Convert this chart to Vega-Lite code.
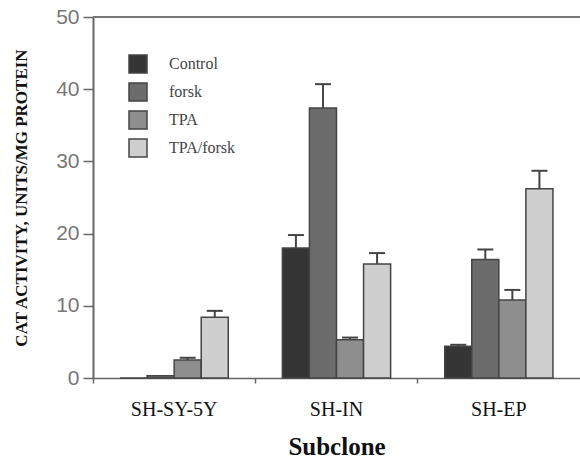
{
  "$schema": "https://vega.github.io/schema/vega-lite/v6.json",
  "width": 487,
  "height": 361,
  "autosize": "none",
  "padding": {"left": 93, "top": 17, "right": 0, "bottom": 82},
  "background": "white",
  "config": {
    "view": {"stroke": null},
    "axis": {"domainColor": "#666", "tickColor": "#666", "domainWidth": 1.5, "tickWidth": 1.5, "grid": false}
  },
  "data": {
    "values": [
      {"subclone": "SH-SY-5Y", "treatment": "Control", "value": 0, "err": null},
      {"subclone": "SH-SY-5Y", "treatment": "forsk", "value": 0.3, "err": null},
      {"subclone": "SH-SY-5Y", "treatment": "TPA", "value": 2.5, "err": 2.8},
      {"subclone": "SH-SY-5Y", "treatment": "TPA/forsk", "value": 8.4, "err": 9.3},
      {"subclone": "SH-IN", "treatment": "Control", "value": 18.0, "err": 19.8},
      {"subclone": "SH-IN", "treatment": "forsk", "value": 37.4, "err": 40.7},
      {"subclone": "SH-IN", "treatment": "TPA", "value": 5.3, "err": 5.6},
      {"subclone": "SH-IN", "treatment": "TPA/forsk", "value": 15.8, "err": 17.3},
      {"subclone": "SH-EP", "treatment": "Control", "value": 4.4, "err": 4.6},
      {"subclone": "SH-EP", "treatment": "forsk", "value": 16.4, "err": 17.8},
      {"subclone": "SH-EP", "treatment": "TPA", "value": 10.8, "err": 12.2},
      {"subclone": "SH-EP", "treatment": "TPA/forsk", "value": 26.2, "err": 28.7}
    ]
  },
  "layer": [
    {
      "mark": {"type": "bar", "stroke": "#444", "strokeWidth": 1.5},
      "encoding": {
        "x": {
          "field": "subclone", "type": "nominal", "sort": ["SH-SY-5Y", "SH-IN", "SH-EP"],
          "scale": {"paddingInner": 0, "paddingOuter": 0},
          "title": "Subclone",
          "axis": {
            "bandPosition": 0, "labelAngle": 0, "tickSize": 5,
            "labelFont": "Liberation Serif", "labelFontSize": 20, "labelColor": "#111", "labelPadding": 16,
            "titleFont": "Liberation Serif", "titleFontSize": 25, "titleFontWeight": "bold", "titleColor": "#111", "titlePadding": 15
          }
        },
        "xOffset": {"field": "treatment", "type": "nominal", "sort": ["Control", "forsk", "TPA", "TPA/forsk"], "scale": {"paddingInner": 0, "paddingOuter": 1}},
        "y": {
          "field": "value", "type": "quantitative", "scale": {"domain": [0, 50], "nice": false},
          "title": "CAT ACTIVITY, UNITS/MG PROTEIN",
          "axis": {
            "values": [0, 5, 10, 15, 20, 25, 30, 35, 40, 45, 50],
            "labelExpr": "datum.value % 10 === 0 ? datum.label : ''",
            "tickSize": {"condition": {"test": "datum.value % 10 === 0", "value": 10}, "value": 6},
            "domainWidth": 2,
            "labelFont": "Liberation Sans", "labelFontSize": 21, "labelColor": "#777", "labelPadding": 4,
            "titleFont": "Liberation Serif", "titleFontSize": 17, "titleFontWeight": "bold", "titleColor": "#111", "titlePadding": 25
          }
        },
        "color": {
          "field": "treatment", "type": "nominal",
          "scale": {"domain": ["Control", "forsk", "TPA", "TPA/forsk"], "range": ["#353535", "#6c6c6c", "#8e8e8e", "#cfcfcf"]},
          "legend": {
            "orient": "none", "legendX": 35, "legendY": 37, "title": null,
            "symbolType": "square", "symbolSize": 324, "symbolStrokeColor": "#444", "symbolStrokeWidth": 1.5, "symbolOpacity": 1,
            "labelFont": "Liberation Serif", "labelFontSize": 16, "labelColor": "#444", "labelOffset": 21, "rowPadding": 4
          }
        }
      }
    },
    {
      "transform": [{"filter": "datum.err != null"}],
      "mark": {"type": "rule", "color": "#444", "strokeWidth": 2},
      "encoding": {
        "x": {"field": "subclone", "type": "nominal", "sort": ["SH-SY-5Y", "SH-IN", "SH-EP"]},
        "xOffset": {"field": "treatment", "type": "nominal", "sort": ["Control", "forsk", "TPA", "TPA/forsk"]},
        "y": {"field": "value", "type": "quantitative"},
        "y2": {"field": "err"}
      }
    },
    {
      "transform": [{"filter": "datum.err != null"}],
      "mark": {"type": "tick", "color": "#444", "thickness": 2, "size": 16, "opacity": 1},
      "encoding": {
        "x": {"field": "subclone", "type": "nominal", "sort": ["SH-SY-5Y", "SH-IN", "SH-EP"]},
        "xOffset": {"field": "treatment", "type": "nominal", "sort": ["Control", "forsk", "TPA", "TPA/forsk"]},
        "y": {"field": "err", "type": "quantitative"}
      }
    },
    {
      "mark": {"type": "rule", "color": "#777", "strokeWidth": 1.5},
      "encoding": {"y": {"datum": 50}}
    }
  ]
}
